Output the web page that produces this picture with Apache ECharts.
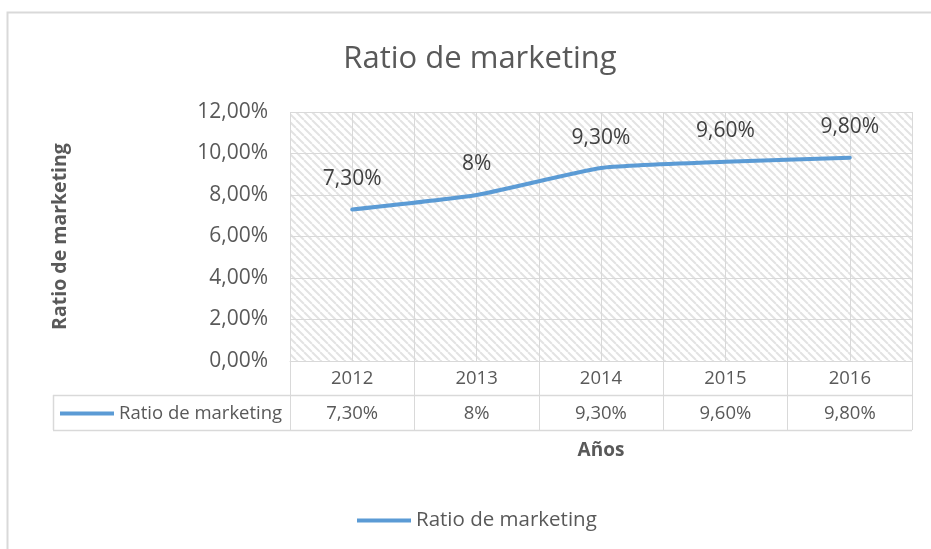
<!DOCTYPE html>
<html>
<head>
<meta charset="utf-8">
<script src="https://cdn.jsdelivr.net/npm/echarts@6/dist/echarts.min.js"></script>
<style>
html,body{margin:0;padding:0;background:#fff;}
#main{width:931px;height:549px;}
</style>
</head>
<body>
<div id="main"></div>
<script>
const years = ['2012', '2013', '2014', '2015', '2016'];
const ratio = [7.3, 8.0, 9.3, 9.6, 9.8];
const valueLabels = ['7,30%', '8%', '9,30%', '9,60%', '9,80%'];
const seriesName = 'Ratio de marketing';
const chartTitle = 'Ratio de marketing';
const yTitle = 'Ratio de marketing';
const xTitle = 'Años';

const FONT = 'Open Sans';
const TXT = '#595959';
const LINE = '#d9d9d9';
const BLUE = '#5b9bd5';

// hatch pattern
const pc = document.createElement('canvas');
pc.width = 8; pc.height = 8;
const pctx = pc.getContext('2d');
pctx.fillStyle = '#ffffff';
pctx.fillRect(0, 0, 8, 8);
pctx.strokeStyle = '#e3e3e3';
pctx.lineWidth = 2;
[-8, 0, 8].forEach(function (k) {
  pctx.beginPath();
  pctx.moveTo(k, 0);
  pctx.lineTo(k + 8, 8);
  pctx.stroke();
});

const GL = 290, GT = 112, GR = 19, GB = 188;

const chart = echarts.init(document.getElementById('main'));
const option = {
  backgroundColor: '#fff',
  animation: false,
  title: {
    text: chartTitle,
    left: 475,
    top: 39,
    textAlign: 'center',
    textStyle: { fontFamily: FONT, fontSize: 31, fontWeight: 'normal', color: TXT }
  },
  legend: [
    {
      data: [seriesName],
      left: 357,
      top: 510,
      padding: 0,
      icon: 'rect',
      itemWidth: 54,
      itemHeight: 4,
      itemGap: 5,
      textStyle: { fontFamily: FONT, fontSize: 20.5, color: TXT },
      selectedMode: false
    },
    {
      data: [seriesName],
      left: 60,
      top: 404,
      padding: 0,
      icon: 'rect',
      itemWidth: 54,
      itemHeight: 4,
      itemGap: 5,
      textStyle: { fontFamily: FONT, fontSize: 18.5, color: TXT },
      selectedMode: false
    }
  ],
  grid: {
    left: GL, top: GT, right: GR, bottom: GB,
    show: true,
    borderWidth: 0,
    backgroundColor: { image: pc, repeat: 'repeat' }
  },
  xAxis: [
    {
      type: 'category',
      data: years,
      boundaryGap: true,
      name: xTitle,
      nameLocation: 'middle',
      nameGap: 80,
      nameTextStyle: { fontFamily: FONT, fontSize: 19, fontWeight: 'bold', color: TXT },
      axisLine: { show: true, lineStyle: { color: LINE, width: 1 } },
      axisTick: { show: true, length: 69, lineStyle: { color: LINE, width: 1 } },
      axisLabel: { fontFamily: FONT, fontSize: 18.5, color: TXT, margin: 8 },
      splitLine: { show: true, lineStyle: { color: LINE, width: 1 } }
    },
    {
      type: 'value',
      min: 0,
      max: 10,
      interval: 1,
      show: true,
      axisLine: { show: false },
      axisTick: { show: false },
      axisLabel: { show: false },
      splitLine: { show: true, lineStyle: { color: LINE, width: 1 } }
    },
    {
      type: 'category',
      data: valueLabels,
      position: 'bottom',
      offset: 34,
      axisLine: { show: false },
      axisTick: { show: false },
      axisLabel: { fontFamily: FONT, fontSize: 18.5, color: TXT, margin: 9 },
      splitLine: { show: false }
    }
  ],
  yAxis: {
    type: 'value',
    min: 0,
    max: 12,
    interval: 2,
    name: yTitle,
    nameLocation: 'middle',
    nameGap: 220,
    nameRotate: 90,
    nameTextStyle: { fontFamily: FONT, fontSize: 19.5, fontWeight: 'bold', color: TXT },
    axisLine: { show: false },
    axisTick: { show: false },
    axisLabel: {
      fontFamily: FONT, fontSize: 21, color: TXT, margin: 22,
      formatter: function (v) { return v.toFixed(2).replace('.', ',') + '%'; }
    },
    splitLine: { show: true, lineStyle: { color: LINE, width: 1 } }
  },
  series: [
    {
      name: seriesName,
      type: 'line',
      xAxisIndex: 0,
      data: ratio,
      smooth: 0.15,
      showSymbol: true,
      symbol: 'circle',
      symbolSize: 0.01,
      lineStyle: { color: BLUE, width: 4, cap: 'round' },
      itemStyle: { color: BLUE },
      label: {
        show: true,
        position: 'top',
        distance: 20,
        fontFamily: FONT,
        fontSize: 21,
        color: '#404040',
        formatter: function (p) { return valueLabels[p.dataIndex]; }
      }
    }
  ]
};
chart.setOption(option);

// table frame + outer border (decoration)
const W = chart.getWidth();
const right = W - GR;
const bottomAxisY = chart.getHeight() - GB;
const row2 = bottomAxisY + 34;
const row3 = bottomAxisY + 69;
const tl = 53;
chart.setOption({
  graphic: [
    { type: 'rect', shape: { x: 7.5, y: 12.5, width: 960, height: 600 }, style: { fill: 'none', stroke: LINE, lineWidth: 2 }, silent: true, z: -1 },
    { type: 'line', shape: { x1: tl, y1: row2 + 0.5, x2: right, y2: row2 + 0.5 }, style: { stroke: LINE, lineWidth: 1.5 }, silent: true },
    { type: 'line', shape: { x1: tl, y1: row3 + 0.5, x2: right, y2: row3 + 0.5 }, style: { stroke: LINE, lineWidth: 1.5 }, silent: true },
    { type: 'line', shape: { x1: tl + 0.5, y1: row2, x2: tl + 0.5, y2: row3 }, style: { stroke: LINE, lineWidth: 1.5 }, silent: true }
  ]
});
</script>
</body>
</html>
